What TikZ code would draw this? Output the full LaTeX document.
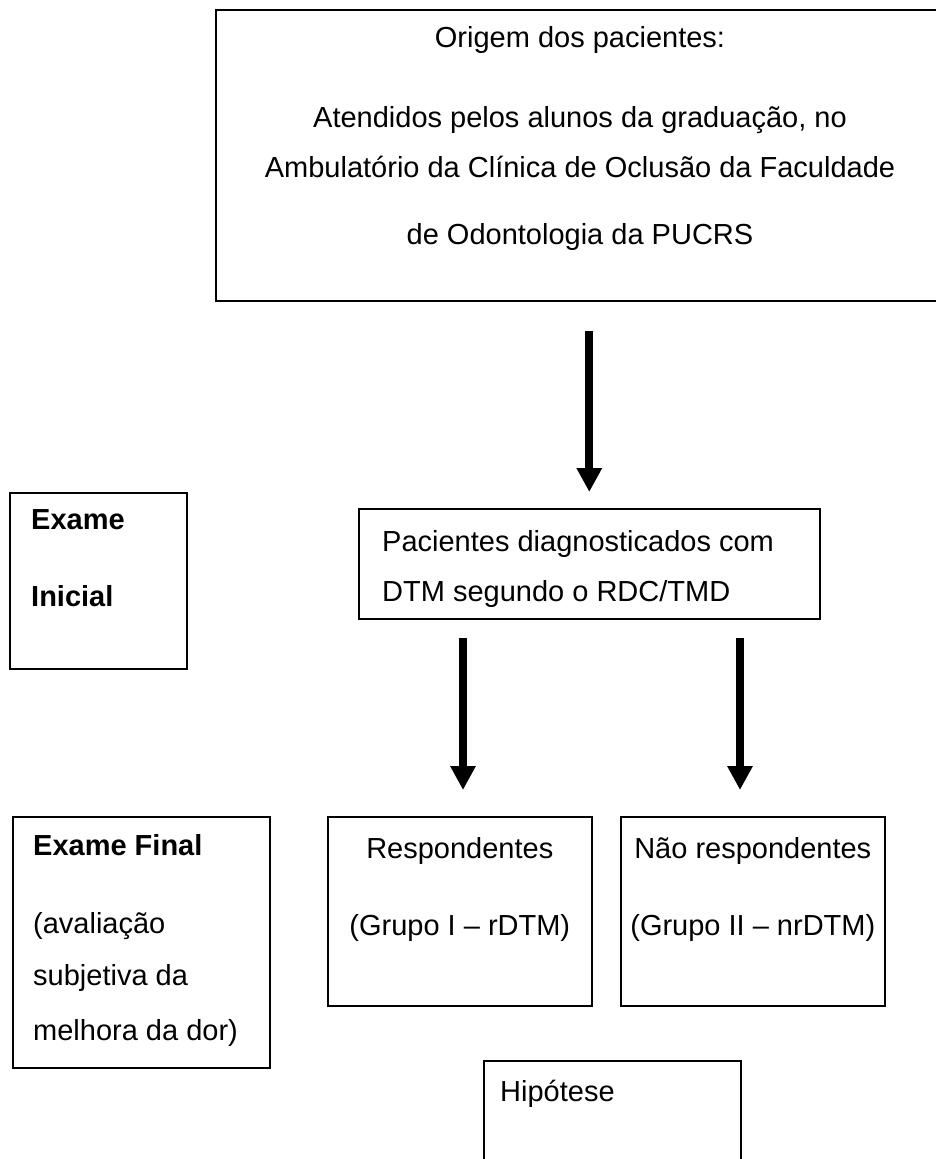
\documentclass[tikz,border=0pt]{standalone}
\usepackage{fontspec}
\setmainfont{Liberation Sans}
\usetikzlibrary{positioning,arrows.meta}
\tikzstyle{framebox} = [draw=black, line width=1.6pt, rectangle, inner sep=0pt, anchor=north west]
\tikzstyle{boxtext} = [inner sep=0pt, font=\fontsize{29}{50}\selectfont]
\tikzstyle{thickarrow} = [line width=8pt, -{Triangle[width=24pt,length=24pt]}]

\begin{document}
\begin{tikzpicture}[x=1pt,y=-1pt]
        \useasboundingbox (0,0) rectangle (936,1159);
        % caixas
        \node[framebox, minimum width=730pt, minimum height=291pt] (origem) at (215,9) {};
        \node[framebox, minimum width=177pt, minimum height=176pt] (inicial) at (9,492) {};
        \node[framebox, minimum width=461pt, minimum height=110pt] (pacientes) at (358,508) {};
        \node[framebox, minimum width=257pt, minimum height=251pt] (final) at (12,816) {};
        \node[framebox, minimum width=264pt, minimum height=189pt] (resp) at (327,816) {};
        \node[framebox, minimum width=264pt, minimum height=189pt] (naoresp) at (620,816) {};
        \node[framebox, minimum width=257pt, minimum height=140pt] (hipotese) at (483,1060) {};
        % textos
        \node[boxtext, anchor=north, align=center] (origemtxt) at (580,26.5) {Origem dos pacientes:\\[30pt]
            Atendidos pelos alunos da graduação, no\\
            Ambulatório da Clínica de Oclusão da Faculdade\\[17pt]
            de Odontologia da PUCRS};
        \node[boxtext, align=left, below right=17.5pt and 22pt of inicial.north west] (inicialtxt) {\textbf{Exame}\\[27pt]\textbf{Inicial}};
        \node[boxtext, align=left, below right=22.5pt and 24pt of pacientes.north west] (pacientestxt) {Pacientes diagnosticados com\\DTM segundo o RDC/TMD};
        \node[boxtext, align=left, below right=18.5pt and 21pt of final.north west] (finaltxt) {\textbf{Exame Final}\\[28pt](avaliação\\[2pt]subjetiva da\\[5pt]melhora da dor)};
        \node[boxtext, align=center, below=21.5pt of resp.north] (resptxt) {Respondentes\\[27pt](Grupo I -- rDTM)};
        \node[boxtext, align=center, below=21.5pt of naoresp.north] (naoresptxt) {Não respondentes\\[27pt](Grupo II -- nrDTM)};
        \node[boxtext, align=left, below right=19.5pt and 17pt of hipotese.north west] (hipotesetxt) {Hipótese};
        % setas
        \coordinate (tipl) at (463,790);
        \coordinate (tipr) at (740,790);
        \draw[thickarrow, shorten <=29pt, shorten >=16pt] (origem.south -| pacientes.north) -- (pacientes.north);
        \draw[thickarrow, shorten <=18pt] (pacientes.south -| tipl) -- (tipl);
        \draw[thickarrow, shorten <=18pt] (pacientes.south -| tipr) -- (tipr);
\end{tikzpicture}
\end{document}
